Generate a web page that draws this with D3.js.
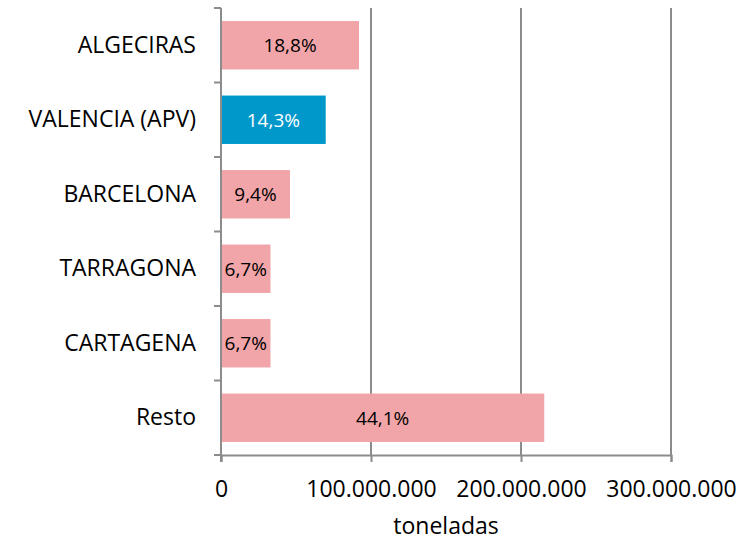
<!DOCTYPE html>
<html><head><meta charset="utf-8">
<script src="https://cdn.jsdelivr.net/npm/d3@7"></script>
<style>body{margin:0;background:#fff}svg{display:block}</style>
</head><body>
<svg id="c" width="752" height="541"></svg>
<script>
const categories = ["ALGECIRAS","VALENCIA (APV)","BARCELONA","TARRAGONA","CARTAGENA","Resto"];
const values = [92000000, 69800000, 46000000, 33000000, 33000000, 215500000];
const labels = ["18,8%","14,3%","9,4%","6,7%","6,7%","44,1%"];
const highlight = ["VALENCIA (APV)"];
const xTicks = [0, 100000000, 200000000, 300000000];
const xTitle = "toneladas";

const svg = d3.select("#c");
const font = "'Open Sans', sans-serif";
const L = 221, R = 671, T = 8, B = 455;
const x = d3.scaleLinear().domain([0, 300000000]).range([L, R]);
const y = d3.scaleBand().domain(categories).range([T, B]).paddingInner(0.35).paddingOuter(0.175);
const yb = d3.scaleBand().domain(categories).range([T, B]);
const fmt = v => d3.format(",")(v).replace(/,/g, ".");

// gridlines
svg.append("g").selectAll("line").data(xTicks.slice(1)).join("line")
  .attr("x1", d => x(d)).attr("x2", d => x(d)).attr("y1", T).attr("y2", B)
  .attr("stroke", "#8c8c8c").attr("stroke-width", 2);

// bars
svg.append("g").selectAll("rect").data(categories).join("rect")
  .attr("x", x(0)).attr("y", d => y(d))
  .attr("width", (d, i) => x(values[i]) - x(0)).attr("height", y.bandwidth())
  .attr("fill", d => highlight.includes(d) ? "#0098CB" : "#F2A5A8");

// bar labels
svg.append("g").selectAll("text").data(categories).join("text")
  .attr("x", (d, i) => (x(0) + x(values[i])) / 2)
  .attr("y", d => y(d) + y.bandwidth() / 2)
  .attr("dy", "0.36em").attr("text-anchor", "middle")
  .attr("font-family", font).attr("font-size", 19)
  .attr("fill", d => highlight.includes(d) ? "#fff" : "#000")
  .text((d, i) => labels[i]);

// y axis
const ya = svg.append("g").attr("transform", `translate(${L},0)`)
  .call(d3.axisLeft(yb).tickSize(0).tickPadding(25));
ya.select(".domain").remove();
ya.selectAll("text").attr("font-family", font).attr("font-size", 23).attr("fill", "#000");
svg.append("line").attr("x1", L).attr("x2", L).attr("y1", T).attr("y2", B + 7)
  .attr("stroke", "#8c8c8c").attr("stroke-width", 2);
const bounds = categories.map(c => yb(c)).concat([B]);
svg.append("g").selectAll("line").data(bounds).join("line")
  .attr("x1", L - 7).attr("x2", L).attr("y1", d => d).attr("y2", d => d)
  .attr("stroke", "#8c8c8c").attr("stroke-width", 2);

// x axis
const xa = svg.append("g").attr("transform", `translate(0,${B})`)
  .call(d3.axisBottom(x).tickValues(xTicks).tickFormat(fmt).tickSize(7));
xa.select(".domain").attr("stroke", "#8c8c8c").attr("stroke-width", 2);
xa.selectAll(".tick line").attr("stroke", "#8c8c8c").attr("stroke-width", 2);
xa.selectAll("text").attr("y", 42).attr("dy", 0)
  .attr("font-family", font).attr("font-size", 23).attr("fill", "#000");

svg.append("text").attr("x", (L + R) / 2).attr("y", 534).attr("text-anchor", "middle")
  .attr("font-family", font).attr("font-size", 23).attr("fill", "#000").text(xTitle);
</script>
</body></html>
